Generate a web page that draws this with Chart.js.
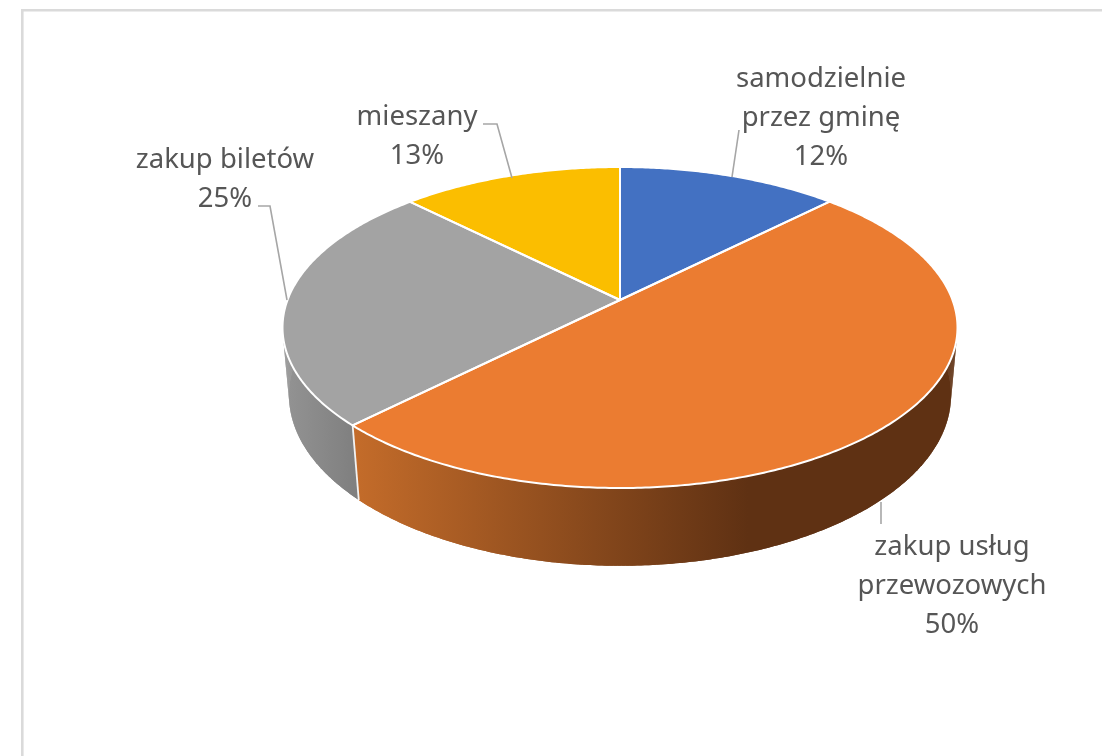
<!DOCTYPE html>
<html>
<head>
<meta charset="utf-8">
<style>html,body{margin:0;padding:0;background:#fff;overflow:hidden}canvas{display:block;filter:blur(0.4px)}</style>
<script src="https://cdn.jsdelivr.net/npm/chart.js@4"></script>
</head>
<body>
<canvas id="c" width="1102" height="756"></canvas>
<script>
const categories = ["samodzielnie przez gminę", "zakup usług przewozowych", "zakup biletów", "mieszany"];
const values = [12.49, 50, 25, 12.51];
const sliceColors = ["#4371C2", "#EB7C31", "#A3A3A3", "#FBBE00"];
const labelLines = [["samodzielnie", "przez gminę"], ["zakup usług", "przewozowych"], ["zakup biletów"], ["mieszany"]];

// Perspective projection of the pie's unit disc: top face and lower rim
const TOP = {cx: 620, cy: 300, a: 155.8, b: 332.5, k: -0.1713};
const RIM = {cx: 620, cy: 367, a: 166, b: 326.5, k: -0.165};
const project = (g, t) => {
  const u = Math.cos(t), v = Math.sin(t), d = 1 + g.k * v;
  return [g.cx + g.b * u / d, g.cy + g.a * v / d];
};
const anglesBetween = (s, e) => {
  const n = Math.max(2, Math.ceil((e - s) / 0.01)), out = [];
  for (let i = 0; i <= n; i++) out.push(s + (e - s) * i / n);
  return out;
};
// label anchor: centre x, first baseline; leader: polyline
const LAYOUT = [
  {x: 821, y: 87, leader: [[739, 130], [732, 177]]},
  {x: 952, y: 555, leader: [[881, 502], [881, 524]]},
  {x: 225, y: 168, leader: [[258, 206], [270, 206], [287, 300]]},
  {x: 417, y: 125, leader: [[483, 124], [497, 124], [512, 178]]}
];
const LINE_H = 39;
const WALLS = [
  null,
  {x0: 353, x1: 748, c0: "#C46C2A", c1: "#5F3113"},
  {x0: 285, x1: 353, c0: "#939393", c1: "#808080"},
  null
];

const pie3d = {
  id: "pie3d",
  beforeDatasetsDraw(chart) {
    const ctx = chart.ctx, arcs = chart.getDatasetMeta(0).data;
    const FRONT0 = 0, FRONT1 = Math.PI;
    ctx.save();
    // frame
    ctx.strokeStyle = "#DADADA";
    ctx.lineWidth = 2.6;
    ctx.beginPath();
    ctx.moveTo(22.3, 756); ctx.lineTo(22.3, 10.3); ctx.lineTo(1102, 10.3);
    ctx.stroke();
    // side walls
    arcs.forEach((arc, i) => {
      const w = WALLS[i];
      if (!w) return;
      const s = Math.max(arc.startAngle, FRONT0), e = Math.min(arc.endAngle, FRONT1);
      if (e <= s) return;
      const grad = ctx.createLinearGradient(w.x0, 0, w.x1, 0);
      grad.addColorStop(0, w.c0); grad.addColorStop(1, w.c1);
      ctx.fillStyle = grad;
      const ts = anglesBetween(s, e);
      // the band between the two rims
      ctx.beginPath();
      ts.forEach((t, j) => { const p = project(TOP, t); j ? ctx.lineTo(p[0], p[1]) : ctx.moveTo(p[0], p[1]); });
      ts.slice().reverse().forEach(t => { const p = project(RIM, t); ctx.lineTo(p[0], p[1]); });
      ctx.closePath();
      ctx.fill();
      // each quad again, over the band, fills the silhouette's envelope at the sides
      for (let j = 0; j < ts.length - 1; j++) {
        const p = [project(TOP, ts[j]), project(TOP, ts[j + 1]), project(RIM, ts[j + 1]), project(RIM, ts[j])];
        ctx.beginPath();
        ctx.moveTo(p[0][0], p[0][1]);
        for (let q = 1; q < 4; q++) ctx.lineTo(p[q][0], p[q][1]);
        ctx.closePath();
        ctx.fill();
      }
    });
    // seam between walls, at the edge of the slices that meet in front
    arcs.forEach(arc => {
      const t = arc.endAngle;
      if (t > FRONT0 && t < FRONT1) {
        const a = project(TOP, t), b = project(RIM, t);
        ctx.strokeStyle = "#F2F2F2"; ctx.lineWidth = 1.8;
        ctx.beginPath(); ctx.moveTo(a[0], a[1]); ctx.lineTo(b[0], b[1]); ctx.stroke();
      }
    });
    // top face
    const slicePath = arc => {
      ctx.beginPath();
      ctx.moveTo(TOP.cx, TOP.cy);
      anglesBetween(arc.startAngle, arc.endAngle).forEach(t => {
        const p = project(TOP, t);
        ctx.lineTo(p[0], p[1]);
      });
      ctx.closePath();
    };
    arcs.forEach((arc, i) => { slicePath(arc); ctx.fillStyle = sliceColors[i]; ctx.fill(); });
    arcs.forEach(arc => {
      slicePath(arc);
      ctx.strokeStyle = "#FFFFFF"; ctx.lineWidth = 2; ctx.lineJoin = "round";
      ctx.stroke();
    });
    // leaders and labels
    ctx.strokeStyle = "#A6A6A6"; ctx.lineWidth = 1.6; ctx.lineJoin = "miter";
    ctx.font = '27.5px "Noto Sans"';
    ctx.textAlign = "center"; ctx.textBaseline = "alphabetic";
    values.forEach((v, i) => {
      const L = LAYOUT[i];
      ctx.beginPath();
      L.leader.forEach((p, j) => j ? ctx.lineTo(p[0], p[1]) : ctx.moveTo(p[0], p[1]));
      ctx.stroke();
      ctx.fillStyle = "#565656";
      const lines = labelLines[i].concat([Math.round(v) + "%"]);
      lines.forEach((s, j) => ctx.fillText(s, L.x, L.y + j * LINE_H));
    });
    ctx.restore();
    return false;
  }
};

new Chart(document.getElementById("c"), {
  type: "pie",
  data: {labels: categories, datasets: [{data: values, backgroundColor: sliceColors, borderColor: "#fff"}]},
  options: {
    responsive: false,
    animation: false,
    plugins: {legend: {display: false}, tooltip: {enabled: false}}
  },
  plugins: [pie3d]
});
</script>
</body>
</html>
